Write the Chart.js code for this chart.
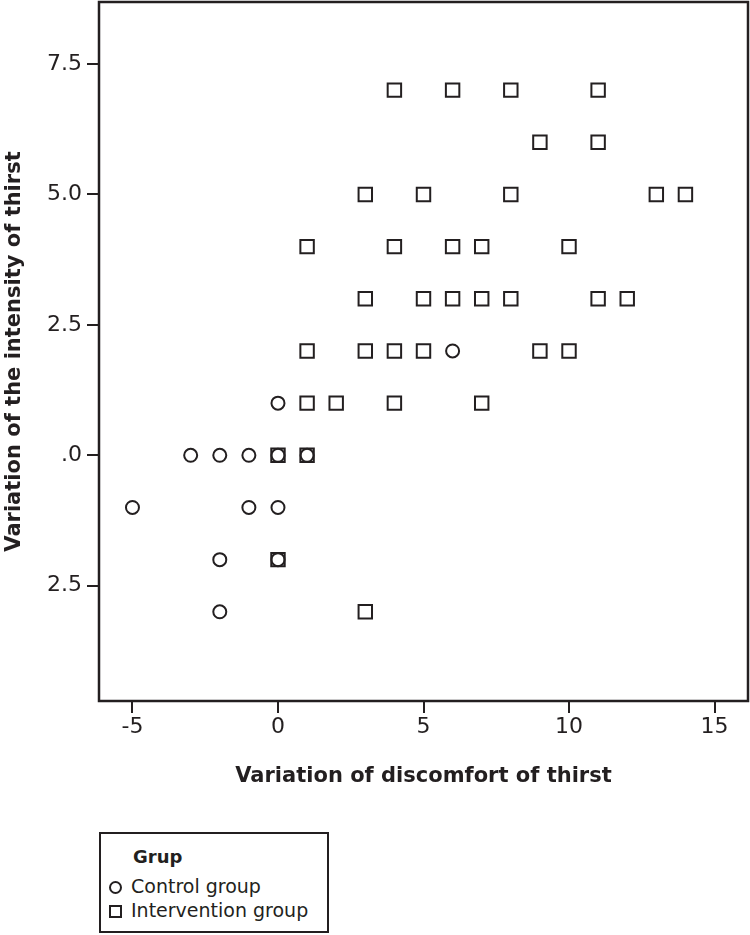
<!DOCTYPE html>
<html>
<head>
<meta charset="utf-8">
<script src="https://cdn.jsdelivr.net/npm/chart.js@4/dist/chart.umd.min.js"></script>
<style>
  html, body { margin: 0; padding: 0; background: #fff; }
  #wrap { position: relative; width: 750px; height: 935px; font-family: "DejaVu Sans", Verdana, sans-serif; color: #231f20; }
  #cbox { position: absolute; left: 0; top: 0; width: 750px; height: 800px; }
  #legend { position: absolute; left: 99px; top: 832px; width: 230px; height: 101px; box-sizing: border-box; border: 2px solid #231f20; }
  #legend .ttl { position: absolute; left: 32px; top: 12px; font-weight: bold; font-size: 18px; }
  #legend .row { position: absolute; left: 30px; font-size: 19px; white-space: nowrap; }
  #legend .mk { position: absolute; box-sizing: border-box; border: 2px solid #231f20; width: 13px; height: 13px; }
  #legend .circ { border-radius: 50%; }
</style>
</head>
<body>
<div id="wrap">
  <div id="cbox"><canvas id="c"></canvas></div>
  <div id="legend">
    <div class="ttl">Grup</div>
    <div class="mk circ" style="left:8px; top:47px;"></div>
    <div class="row" style="top:41px;">Control group</div>
    <div class="mk" style="left:8px; top:71px;"></div>
    <div class="row" style="top:65px;">Intervention group</div>
  </div>
</div>
<script>
// Data
const controlX = [-5, -3, -2, -1, 0, 1, 0, -1, 0, -2, 0, -2, 6];
const controlY = [-1, 0, 0, 0, 0, 0, 1, -1, -1, -2, -2, -3, 2];
const interventionX = [4, 6, 8, 11, 9, 11, 3, 5, 8, 13, 14, 1, 4, 6, 7, 10, 3, 5, 6, 7, 8, 11, 12, 1, 3, 4, 5, 9, 10, 1, 2, 4, 7, 0, 1, 0, 3];
const interventionY = [7, 7, 7, 7, 6, 6, 5, 5, 5, 5, 5, 4, 4, 4, 4, 4, 3, 3, 3, 3, 3, 3, 3, 2, 2, 2, 2, 2, 2, 1, 1, 1, 1, 0, 0, -2, -3];
const xTickValues = [-5, 0, 5, 10, 15];
const xTickLabels = ["-5", "0", "5", "10", "15"];
const yTickValues = [7.5, 5, 2.5, 0, -2.5];
const yTickLabels = ["7.5", "5.0", "2.5", ".0", "2.5"];
const seriesNames = ["Control group", "Intervention group"];
const xTitle = "Variation of discomfort of thirst";
const yTitle = "Variation of the intensity of thirst";

const INK = '#231f20';
const toPts = (xs, ys) => xs.map((x, i) => ({ x: x, y: ys[i] }));

const frame = {
  id: 'frame',
  afterDraw(chart) {
    const { ctx, chartArea: a } = chart;
    ctx.save();
    ctx.strokeStyle = INK;
    ctx.lineWidth = 2.5;
    ctx.strokeRect(a.left, a.top, a.right - a.left, a.bottom - a.top);
    ctx.restore();
  }
};

function zeroPad(s) { s.paddingTop = 0; s.paddingBottom = 0; s.paddingLeft = 0; s.paddingRight = 0; }

new Chart(document.getElementById('c'), {
  type: 'scatter',
  data: {
    datasets: [
      { label: seriesNames[0], data: toPts(controlX, controlY), pointStyle: 'circle', pointRadius: 6.5, pointHoverRadius: 6.5,
        borderColor: INK, backgroundColor: 'rgba(0,0,0,0)', pointBorderWidth: 2 },
      { label: seriesNames[1], data: toPts(interventionX, interventionY), pointStyle: 'rect', pointRadius: 9.5, pointHoverRadius: 9.5,
        borderColor: INK, backgroundColor: 'rgba(0,0,0,0)', pointBorderWidth: 2 }
    ]
  },
  options: {
    responsive: true,
    maintainAspectRatio: false,
    animation: false,
    events: [],
    layout: { autoPadding: false, padding: { left: 0, top: 2, right: 2, bottom: 0 } },
    plugins: { legend: { display: false }, tooltip: { enabled: false } },
    scales: {
      x: {
        type: 'linear', min: -6.15, max: 16.15,
        afterBuildTicks(s) { s.ticks = xTickValues.map(v => ({ value: v })); },
        afterFit(s) { s.height = 99; zeroPad(s); },
        grid: { drawOnChartArea: false, drawTicks: true, tickLength: 12, color: INK, lineWidth: 2 },
        border: { display: false },
        ticks: { padding: 1, color: INK, font: { family: 'DejaVu Sans', size: 22 },
                 maxRotation: 0, autoSkip: false,
                 callback: (v) => { const i = xTickValues.indexOf(v); return i >= 0 ? xTickLabels[i] : ''; } },
        title: { display: true, text: xTitle, color: INK, font: { family: 'DejaVu Sans', size: 21, weight: 'bold' },
                 padding: { top: 0, bottom: 11 } }
      },
      y: {
        type: 'linear', min: -4.71, max: 8.69,
        afterBuildTicks(s) { s.ticks = yTickValues.map(v => ({ value: v })); },
        afterFit(s) { s.width = 99; zeroPad(s); },
        grid: { drawOnChartArea: false, drawTicks: true, tickLength: 12, color: INK, lineWidth: 2 },
        border: { display: false },
        ticks: { padding: 5, color: INK, font: { family: 'DejaVu Sans', size: 22 }, autoSkip: false,
                 callback: (v) => { const i = yTickValues.indexOf(v); return i >= 0 ? yTickLabels[i] : ''; } },
        title: { display: true, text: yTitle, color: INK, font: { family: 'DejaVu Sans', size: 21, weight: 'bold' },
                 padding: { top: 1.5, bottom: 0 } }
      }
    }
  },
  plugins: [frame]
});
</script>
</body>
</html>
